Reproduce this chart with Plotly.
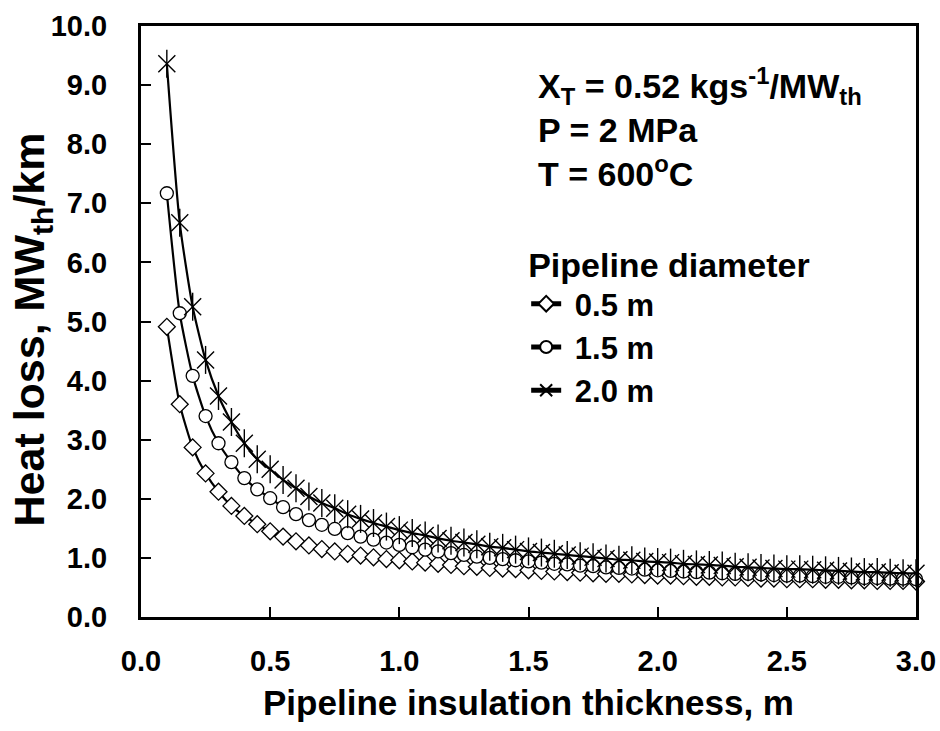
import plotly.graph_objects as go

thickness = [0.10, 0.15, 0.20, 0.25, 0.30, 0.35, 0.40, 0.45, 0.50, 0.55,
             0.60, 0.65, 0.70, 0.75, 0.80, 0.85, 0.90, 0.95, 1.00, 1.05,
             1.10, 1.15, 1.20, 1.25, 1.30, 1.35, 1.40, 1.45, 1.50, 1.55,
             1.60, 1.65, 1.70, 1.75, 1.80, 1.85, 1.90, 1.95, 2.00, 2.05,
             2.10, 2.15, 2.20, 2.25, 2.30, 2.35, 2.40, 2.45, 2.50, 2.55,
             2.60, 2.65, 2.70, 2.75, 2.80, 2.85, 2.90, 2.95, 3.00]

loss_d05 = [4.91, 3.60, 2.87, 2.43, 2.12, 1.88, 1.71, 1.57, 1.45, 1.36,
            1.28, 1.21, 1.15, 1.11, 1.07, 1.04, 1.01, 0.98, 0.96, 0.94,
            0.92, 0.90, 0.88, 0.86, 0.85, 0.83, 0.82, 0.81, 0.79, 0.78,
            0.77, 0.76, 0.75, 0.74, 0.73, 0.73, 0.72, 0.71, 0.70, 0.70,
            0.69, 0.68, 0.68, 0.67, 0.67, 0.66, 0.65, 0.65, 0.64, 0.64,
            0.64, 0.63, 0.63, 0.62, 0.62, 0.61, 0.61, 0.61, 0.60]

loss_d15 = [7.17, 5.14, 4.08, 3.40, 2.94, 2.62, 2.35, 2.16, 2.01, 1.86,
            1.74, 1.64, 1.56, 1.49, 1.42, 1.36, 1.31, 1.26, 1.22, 1.18,
            1.14, 1.11, 1.08, 1.05, 1.02, 1.00, 0.98, 0.96, 0.94, 0.92,
            0.90, 0.89, 0.87, 0.86, 0.84, 0.83, 0.82, 0.80, 0.79, 0.78,
            0.77, 0.76, 0.75, 0.74, 0.73, 0.73, 0.72, 0.71, 0.70, 0.70,
            0.69, 0.68, 0.68, 0.67, 0.66, 0.66, 0.65, 0.65, 0.64]

loss_d20 = [9.36, 6.67, 5.25, 4.35, 3.74, 3.30, 2.94, 2.67, 2.50, 2.32,
            2.18, 2.04, 1.93, 1.84, 1.74, 1.66, 1.59, 1.53, 1.47, 1.42,
            1.38, 1.33, 1.29, 1.26, 1.23, 1.19, 1.17, 1.14, 1.11, 1.09,
            1.07, 1.05, 1.03, 1.01, 0.99, 0.97, 0.96, 0.94, 0.93, 0.92,
            0.90, 0.89, 0.88, 0.87, 0.85, 0.84, 0.83, 0.82, 0.81, 0.81,
            0.80, 0.79, 0.78, 0.77, 0.76, 0.76, 0.75, 0.74, 0.74]

series_names = ["0.5 m", "1.5 m", "2.0 m"]
x_ticks = [0.0, 0.5, 1.0, 1.5, 2.0, 2.5, 3.0]
y_ticks = [0, 1, 2, 3, 4, 5, 6, 7, 8, 9, 10]

FONT = "Liberation Sans, Arial, sans-serif"
PAD = "\u00a0"  # small gap between legend symbol and label

fig = go.Figure()

line_style = dict(color="black", width=2.2, shape="spline", smoothing=0.6)

fig.add_trace(go.Scatter(
    x=thickness, y=loss_d05, name=PAD + series_names[0], mode="lines+markers",
    line=line_style, cliponaxis=False,
    marker=dict(symbol="diamond", size=13, color="white",
                line=dict(color="black", width=1.3))))

fig.add_trace(go.Scatter(
    x=thickness, y=loss_d15, name=PAD + series_names[1], mode="lines+markers",
    line=line_style, cliponaxis=False,
    marker=dict(symbol="circle", size=13, color="white",
                line=dict(color="black", width=1.3))))

fig.add_trace(go.Scatter(
    x=thickness, y=loss_d20, name=PAD + series_names[2], mode="lines+markers",
    line=line_style, cliponaxis=False,
    marker=dict(symbol="x-thin-open", size=17, color="black",
                line=dict(color="black", width=1.4))))

fig.add_trace(go.Scatter(
    x=thickness, y=loss_d20, mode="markers", showlegend=False,
    cliponaxis=False, hoverinfo="skip",
    marker=dict(symbol="line-ns-open", size=20, color="black",
                line=dict(color="black", width=1.4))))

axis_common = dict(
    showgrid=False, zeroline=False, showline=True, linecolor="black",
    linewidth=3, mirror=True, ticks="inside", ticklen=10, tickwidth=2,
    tickcolor="black", automargin=False,
    tickfont=dict(family=FONT, size=29, color="black", weight="bold"),
)

fig.update_xaxes(
    range=[0, 3.0], tickvals=x_ticks, tickformat=".1f", ticklabelstandoff=16,
    title=dict(text="Pipeline insulation thickness, m",
               font=dict(family=FONT, size=35, color="black", weight="bold")),
    **axis_common)

fig.update_yaxes(
    range=[0, 10], tickvals=y_ticks, tickformat=".1f", ticklabelstandoff=25,
    **axis_common)

# y-axis title placed explicitly
fig.add_annotation(text="Heat loss, MW<sub>th</sub>/km", textangle=-90,
                   xref="paper", yref="paper", x=-0.141, y=0.486,
                   xanchor="center", yanchor="middle", showarrow=False,
                   font=dict(family=FONT, size=43, color="black", weight="bold"))

ann_font = dict(family=FONT, size=34, color="black", weight="bold")
ann_lines = ["X<sub>T</sub> = 0.52 kgs<sup>-1</sup>/MW<sub>th</sub>",
             "P = 2 MPa",
             "T = 600<sup>o</sup>C"]
ann_y = [0.898, 0.824, 0.753]
for txt, yy in zip(ann_lines, ann_y):
    fig.add_annotation(text=txt, xref="paper", yref="paper", x=0.510, y=yy,
                       xanchor="left", yanchor="middle", showarrow=False,
                       font=ann_font)

fig.update_layout(
    width=940, height=731,
    margin=dict(l=141, r=24, t=26, b=114),
    paper_bgcolor="white", plot_bgcolor="white",
    font=dict(family=FONT, color="black"),
    legend=dict(
        x=0.497, y=0.650, xanchor="left", yanchor="top",
        bgcolor="rgba(0,0,0,0)",
        font=dict(family=FONT, size=31, color="black", weight="bold"),
        title=dict(text="Pipeline diameter",
                   font=dict(family=FONT, size=34, color="black", weight="bold")),
        itemsizing="constant",
    ),
)

fig.write_html("out.html",
               config={"displayModeBar": False},
               post_script="document.body.style.margin='0';"
                           "document.body.style.overflow='hidden';")
